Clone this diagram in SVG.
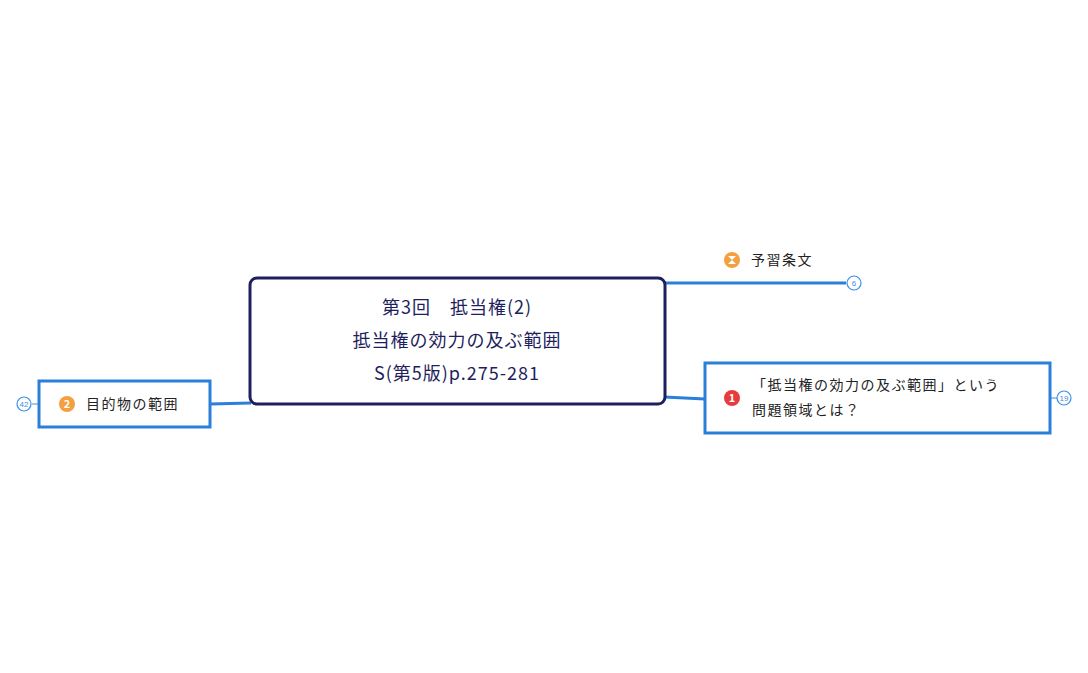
<svg xmlns="http://www.w3.org/2000/svg" width="1088" height="673" viewBox="0 0 1088 673">
<style>
text{font-family:"Noto Sans CJK JP","Noto Sans",sans-serif;}
.t{font-size:14px;fill:#222;letter-spacing:1.5px}
.c{font-size:18px;fill:#1f1f5e;text-anchor:middle;letter-spacing:1px}
.box{fill:#fff;stroke:#2a7fd8;stroke-width:3}
.n{fill:#fff;stroke:#3a8fe8;stroke-width:1.2}
.nt{font-size:8px;fill:#3a8fe8;text-anchor:middle;font-family:"Liberation Sans",sans-serif}
.ln{stroke:#2a7fd8;stroke-width:3;fill:none}
</style>
<rect width="1088" height="673" fill="#fff"/>
<g id="connectors">
<path class="ln" d="M664 283 L846 283"/>
<path class="ln" d="M664 397 L705 399"/>
<path class="ln" d="M210 404 L251 403"/>
<path d="M1050 398 L1057 398 M32 404 L39 404" stroke="#3a8fe8" stroke-width="1.2"/>
</g>
<g id="center">
<rect x="250" y="278" width="415" height="126" rx="7" fill="#fff" stroke="#1f1f5e" stroke-width="3"/>
<text class="c" x="457" y="314">第3回　抵当権(2)</text>
<text class="c" x="457" y="347">抵当権の効力の及ぶ範囲</text>
<text class="c" x="457" y="380">S(第5版)p.275-281</text>
</g>
<g id="n-yoshu">
<circle cx="732" cy="260" r="8" fill="#f5a040"/>
<path d="M728 256 h8 l-4 4 l4 4 h-8 l4 -4z" fill="#fff"/>
<text class="t" x="751" y="265">予習条文</text>
<circle class="n" cx="854" cy="283" r="7"/><text class="nt" x="854" y="286">6</text>
</g>
<g id="n-mondai">
<rect class="box" x="705" y="363" width="345" height="70"/>
<circle cx="732" cy="398" r="8" fill="#e83c3c"/>
<text x="732" y="402" font-size="11" font-weight="bold" fill="#fff" text-anchor="middle" font-family="Liberation Sans,sans-serif">1</text>
<text class="t" x="752" y="390">「抵当権の効力の及ぶ範囲」という</text>
<text class="t" x="752" y="415">問題領域とは？</text>
<circle class="n" cx="1064" cy="398" r="7"/><text class="nt" x="1064" y="401">19</text>
</g>
<g id="n-mokuteki">
<rect class="box" x="39" y="381" width="171" height="46"/>
<circle cx="67" cy="404" r="8" fill="#f5a040"/>
<text x="67" y="408" font-size="11" font-weight="bold" fill="#fff" text-anchor="middle" font-family="Liberation Sans,sans-serif">2</text>
<text class="t" x="86" y="409">目的物の範囲</text>
<circle class="n" cx="24" cy="404" r="7"/><text class="nt" x="24" y="407">42</text>
</g>
</svg>
